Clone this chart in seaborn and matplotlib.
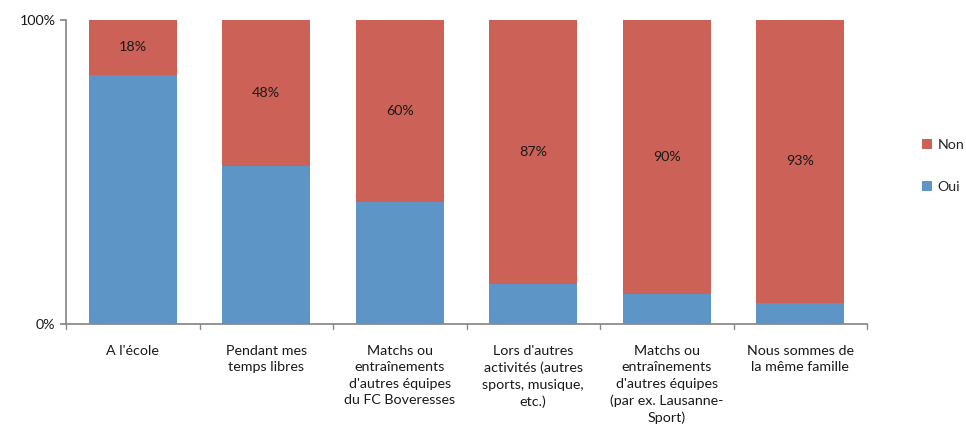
import matplotlib
matplotlib.use("Agg")
import matplotlib.pyplot as plt
import seaborn as sns
import pandas as pd

categories = [
    "A l'école",
    "Pendant mes\ntemps libres",
    "Matchs ou\nentraînements\nd'autres équipes\ndu FC Boveresses",
    "Lors d'autres\nactivités (autres\nsports, musique,\netc.)",
    "Matchs ou\nentraînements\nd'autres équipes\n(par ex. Lausanne-\nSport)",
    "Nous sommes de\nla même famille",
]
non_values = [18, 48, 60, 87, 90, 93]
oui_values = [82, 52, 40, 13, 10, 7]

df = pd.DataFrame({"cat": categories, "Non": non_values, "Oui": oui_values})
df["total"] = df["Non"] + df["Oui"]

sns.set_theme(style="white")
plt.rcParams["font.family"] = ["Lato", "DejaVu Sans"]

RED = "#CC6157"
BLUE = "#5E95C7"
TXT = "#1a1a1a"
FS = 10.3

fig = plt.figure(figsize=(9.66, 4.36), dpi=100)
ax = fig.add_axes([66 / 966, 1 - 324 / 436, (867 - 66) / 966, (324 - 20) / 436])

sns.barplot(data=df, x="cat", y="total", color=RED, width=0.66, ax=ax,
            saturation=1, label="Non", linewidth=0)
sns.barplot(data=df, x="cat", y="Oui", color=BLUE, width=0.66, ax=ax,
            saturation=1, label="Oui", linewidth=0)

for i, (o, n) in enumerate(zip(oui_values, non_values)):
    ax.text(i, o + n / 2, f"{n}%", ha="center", va="center", fontsize=FS,
            color=TXT)

ax.set_xlim(-0.5, len(categories) - 0.5)
ax.set_ylim(0, 100)
ax.set_yticks([0, 100])
ax.set_yticklabels(["0%", "100%"], fontsize=FS, color=TXT)
ax.set_xticks(range(len(categories)))
ax.set_xticklabels(categories, fontsize=FS, color=TXT, linespacing=1.45)
ax.tick_params(axis="x", length=0, pad=15)
ax.tick_params(axis="y", length=4, color="#888888", left=True, direction="out")
for b in [k - 0.5 for k in range(len(categories) + 1)]:
    ax.plot([b, b], [0, -1.6], color="#888888", lw=1, clip_on=False)

ax.set_xlabel("")
ax.set_ylabel("")
for s in ["top", "right"]:
    ax.spines[s].set_visible(False)
ax.spines["left"].set_color("#888888")
ax.spines["bottom"].set_color("#888888")

handles, labels = ax.get_legend_handles_labels()
ax.legend(handles, labels, loc="center left", bbox_to_anchor=(1.053, 0.52),
          frameon=False, fontsize=FS, handlelength=0.7, handleheight=0.7,
          handletextpad=0.35, labelspacing=2.1)

fig.savefig("out.png", dpi=100)
